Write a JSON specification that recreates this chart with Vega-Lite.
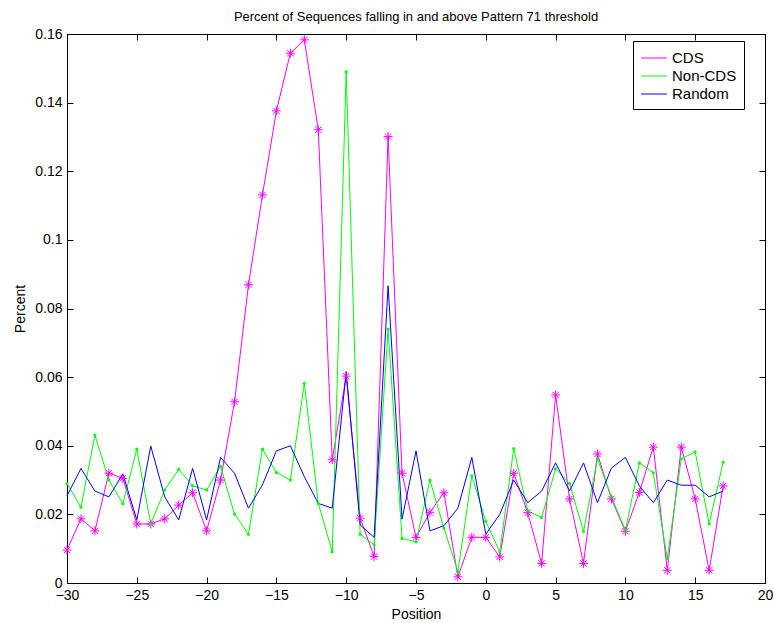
{
  "$schema": "https://vega.github.io/schema/vega-lite/v6.json",
  "width": 698,
  "height": 549,
  "autosize": {"type": "none"},
  "padding": {"left": 67, "top": 34, "right": 9, "bottom": 40},
  "background": "white",
  "config": {
    "font": "Liberation Sans",
    "view": {"stroke": "black", "strokeWidth": 1},
    "axis": {"grid": false, "domainColor": "black", "tickColor": "black", "labelColor": "black", "titleColor": "black", "labelFont": "Liberation Sans", "titleFont": "Liberation Sans", "labelFontSize": 14, "titleFontSize": 14, "titleFontWeight": "normal", "tickSize": -6, "labelPadding": 11, "labelFlush": false, "labelOverlap": false}
  },
  "title": {"text": "Percent of Sequences falling in and above Pattern 71 threshold", "fontSize": 13, "fontWeight": "normal", "font": "Liberation Sans", "color": "black", "offset": 3},
  "data": {"values": [
    {"p": -30, "CDS": 0.0096, "Non-CDS": 0.029, "Random": 0.0254},
    {"p": -29, "CDS": 0.0187, "Non-CDS": 0.0221, "Random": 0.0334},
    {"p": -28, "CDS": 0.0152, "Non-CDS": 0.0431, "Random": 0.0268},
    {"p": -27, "CDS": 0.032, "Non-CDS": 0.030, "Random": 0.0251},
    {"p": -26, "CDS": 0.0305, "Non-CDS": 0.0231, "Random": 0.0318},
    {"p": -25, "CDS": 0.0172, "Non-CDS": 0.039, "Random": 0.0184},
    {"p": -24, "CDS": 0.0172, "Non-CDS": 0.0172, "Random": 0.0399},
    {"p": -23, "CDS": 0.0187, "Non-CDS": 0.0271, "Random": 0.0251},
    {"p": -22, "CDS": 0.0227, "Non-CDS": 0.0331, "Random": 0.0184},
    {"p": -21, "CDS": 0.0263, "Non-CDS": 0.0283, "Random": 0.0334},
    {"p": -20, "CDS": 0.0152, "Non-CDS": 0.0271, "Random": 0.0184},
    {"p": -19, "CDS": 0.030, "Non-CDS": 0.034, "Random": 0.0366},
    {"p": -18, "CDS": 0.0528, "Non-CDS": 0.0201, "Random": 0.032},
    {"p": -17, "CDS": 0.0869, "Non-CDS": 0.0142, "Random": 0.0218},
    {"p": -16, "CDS": 0.1131, "Non-CDS": 0.039, "Random": 0.0286},
    {"p": -15, "CDS": 0.1376, "Non-CDS": 0.0322, "Random": 0.0385},
    {"p": -14, "CDS": 0.1544, "Non-CDS": 0.030, "Random": 0.040},
    {"p": -13, "CDS": 0.1583, "Non-CDS": 0.0582, "Random": 0.031},
    {"p": -12, "CDS": 0.1321, "Non-CDS": 0.0232, "Random": 0.0232},
    {"p": -11, "CDS": 0.0359, "Non-CDS": 0.0091, "Random": 0.0218},
    {"p": -10, "CDS": 0.0603, "Non-CDS": 0.149, "Random": 0.0616},
    {"p": -9, "CDS": 0.0189, "Non-CDS": 0.0142, "Random": 0.0169},
    {"p": -8, "CDS": 0.0077, "Non-CDS": 0.0111, "Random": 0.0133},
    {"p": -7, "CDS": 0.1301, "Non-CDS": 0.074, "Random": 0.0866},
    {"p": -6, "CDS": 0.032, "Non-CDS": 0.013, "Random": 0.0186},
    {"p": -5, "CDS": 0.0133, "Non-CDS": 0.012, "Random": 0.0385},
    {"p": -4, "CDS": 0.0206, "Non-CDS": 0.030, "Random": 0.0152},
    {"p": -3, "CDS": 0.0263, "Non-CDS": 0.016, "Random": 0.0167},
    {"p": -2, "CDS": 0.0018, "Non-CDS": 0.0033, "Random": 0.0218},
    {"p": -1, "CDS": 0.0133, "Non-CDS": 0.0312, "Random": 0.0366},
    {"p": 0, "CDS": 0.0133, "Non-CDS": 0.018, "Random": 0.0142},
    {"p": 1, "CDS": 0.0076, "Non-CDS": 0.0091, "Random": 0.020},
    {"p": 2, "CDS": 0.032, "Non-CDS": 0.0392, "Random": 0.030},
    {"p": 3, "CDS": 0.0205, "Non-CDS": 0.021, "Random": 0.0234},
    {"p": 4, "CDS": 0.0057, "Non-CDS": 0.0191, "Random": 0.0268},
    {"p": 5, "CDS": 0.0548, "Non-CDS": 0.0333, "Random": 0.035},
    {"p": 6, "CDS": 0.0245, "Non-CDS": 0.029, "Random": 0.0268},
    {"p": 7, "CDS": 0.0057, "Non-CDS": 0.015, "Random": 0.035},
    {"p": 8, "CDS": 0.0376, "Non-CDS": 0.0362, "Random": 0.0234},
    {"p": 9, "CDS": 0.0245, "Non-CDS": 0.0251, "Random": 0.0335},
    {"p": 10, "CDS": 0.0151, "Non-CDS": 0.0154, "Random": 0.0366},
    {"p": 11, "CDS": 0.0264, "Non-CDS": 0.035, "Random": 0.0283},
    {"p": 12, "CDS": 0.0396, "Non-CDS": 0.0321, "Random": 0.0234},
    {"p": 13, "CDS": 0.0037, "Non-CDS": 0.0071, "Random": 0.030},
    {"p": 14, "CDS": 0.0396, "Non-CDS": 0.0362, "Random": 0.0285},
    {"p": 15, "CDS": 0.0245, "Non-CDS": 0.0382, "Random": 0.0285},
    {"p": 16, "CDS": 0.0037, "Non-CDS": 0.0172, "Random": 0.0251},
    {"p": 17, "CDS": 0.0283, "Non-CDS": 0.0352, "Random": 0.0268}
  ]},
  "transform": [{"fold": ["CDS", "Non-CDS", "Random"], "as": ["series", "percent"]}],
  "layer": [
    {
      "mark": {"type": "line", "strokeWidth": 1},
      "encoding": {
        "x": {"field": "p", "type": "quantitative", "scale": {"domain": [-30, 20], "nice": false}, "axis": {"title": "Position", "values": [-30, -25, -20, -15, -10, -5, 0, 5, 10, 15, 20], "titlePadding": 5}},
        "y": {"field": "percent", "type": "quantitative", "scale": {"domain": [0, 0.16], "nice": false}, "axis": {"title": "Percent", "values": [0, 0.02, 0.04, 0.06, 0.08, 0.1, 0.12, 0.14, 0.16], "format": "~g", "titlePadding": 7}},
        "color": {"field": "series", "type": "nominal", "scale": {"domain": ["CDS", "Non-CDS", "Random"], "range": ["#ff00ff", "#00ff00", "#0000ff"]},
          "legend": {"title": null, "orient": "none", "legendX": 566, "legendY": 7, "symbolType": "M-1.4,0L1.4,0", "symbolSize": 340, "symbolStrokeWidth": 1, "labelFontSize": 15, "labelFont": "Liberation Sans", "labelColor": "black", "strokeColor": "black", "fillColor": "white", "padding": 7, "rowPadding": 0, "symbolOffset": 4, "labelOffset": 8, "offset": 0}},
        "order": {"field": "series"}
      }
    },
    {
      "transform": [{"filter": "datum.series === 'CDS'"}],
      "mark": {"type": "point", "shape": "M-1,0L1,0M0,-1L0,1M-0.7,-0.7L0.7,0.7M-0.7,0.7L0.7,-0.7", "filled": false, "stroke": "#ff00ff", "strokeWidth": 1, "size": 80, "opacity": 1},
      "encoding": {
        "x": {"field": "p", "type": "quantitative", "axis": {"orient": "top", "labels": false, "title": null, "values": [-30, -25, -20, -15, -10, -5, 0, 5, 10, 15, 20]}},
        "y": {"field": "percent", "type": "quantitative", "axis": {"orient": "right", "labels": false, "title": null, "values": [0, 0.02, 0.04, 0.06, 0.08, 0.1, 0.12, 0.14, 0.16]}}
      }
    },
    {
      "transform": [{"filter": "datum.series === 'Non-CDS'"}],
      "mark": {"type": "point", "shape": "circle", "filled": true, "color": "#00ff00", "size": 10, "opacity": 1},
      "encoding": {
        "x": {"field": "p", "type": "quantitative", "axis": null},
        "y": {"field": "percent", "type": "quantitative", "axis": null}
      }
    }
  ],
  "resolve": {"axis": {"x": "independent", "y": "independent"}}
}
